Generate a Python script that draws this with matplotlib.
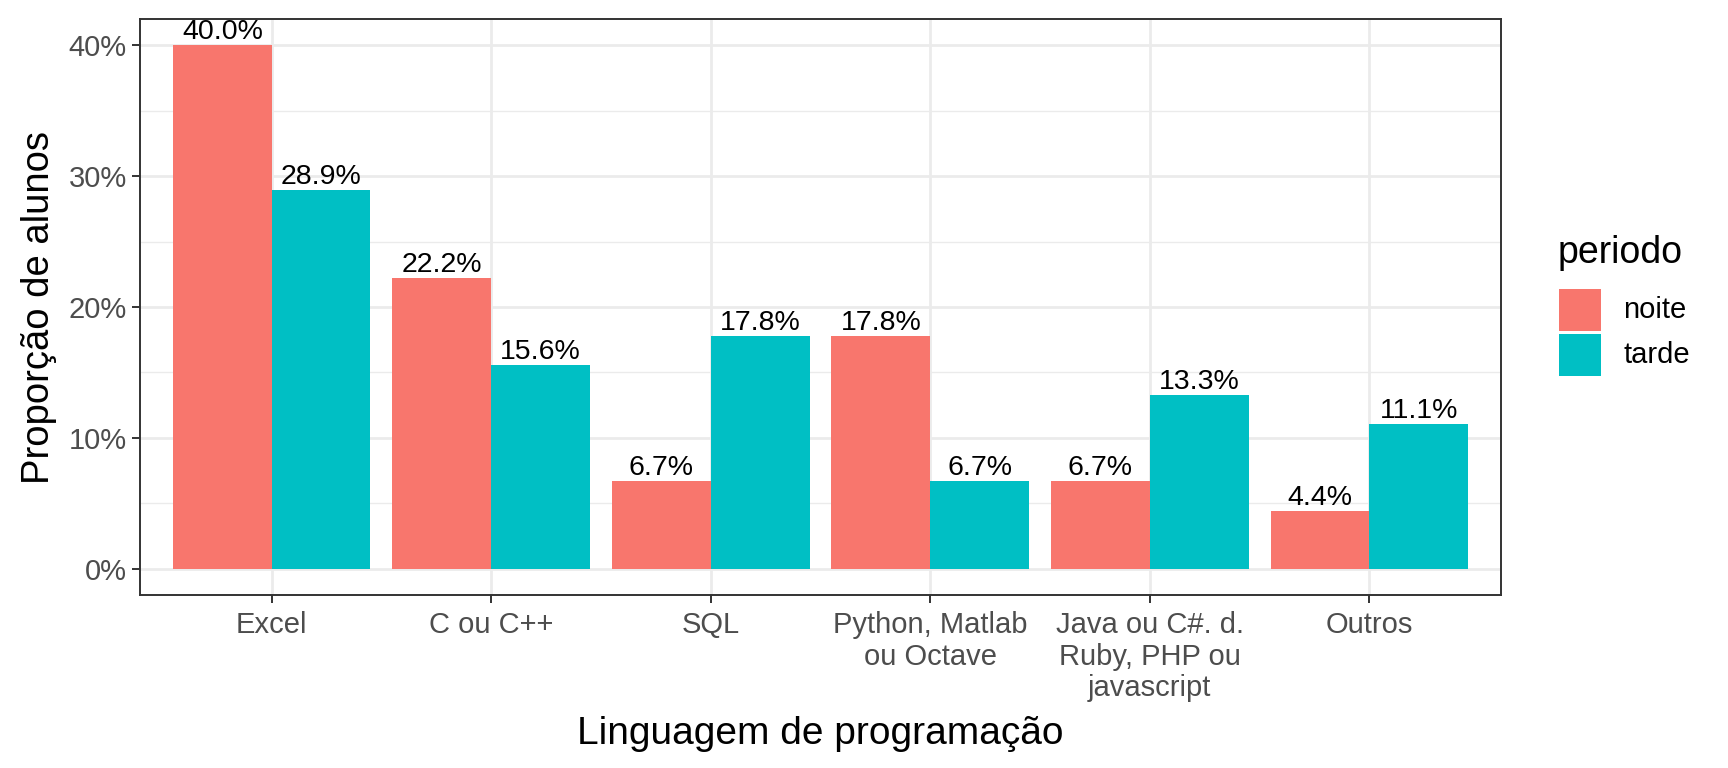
import matplotlib
matplotlib.use('Agg')
import matplotlib.pyplot as plt
import numpy as np
from matplotlib.patches import Rectangle
from matplotlib.ticker import FuncFormatter, MultipleLocator

# dados
linguagens = ['Excel', 'C ou C++', 'SQL', 'Python, Matlab\nou Octave',
              'Java ou C#. d.\nRuby, PHP ou\njavascript', 'Outros']
noite = [0.400, 0.222, 0.067, 0.178, 0.067, 0.044]
tarde = [0.289, 0.156, 0.178, 0.067, 0.133, 0.111]
periodos = ['noite', 'tarde']
cores = ['#F8766D', '#00BFC4']

plt.rcParams['font.family'] = ['Liberation Sans', 'DejaVu Sans']

W, H = 1728, 768
fig = plt.figure(figsize=(W / 100, H / 100), dpi=100)
ax = fig.add_axes([140 / W, 1 - 595 / H, 1361 / W, 576 / H])

x = np.arange(1, len(linguagens) + 1)
w = 0.45
for serie, cor, desl in [(noite, cores[0], -w / 2), (tarde, cores[1], w / 2)]:
    barras = ax.bar(x + desl, serie, width=w, color=cor, zorder=3)
    for b, v in zip(barras, serie):
        ax.text(b.get_x() + b.get_width() / 2, v, f'{v * 100:.1f}%',
                ha='center', va='bottom', fontsize=20.5, color='black',
                zorder=4, clip_on=True)

ax.set_xlim(0.4, 6.6)
ax.set_ylim(-0.02, 0.42)
ax.set_xticks(x)
ax.set_xticklabels(linguagens, fontsize=21, color='#4D4D4D', linespacing=1.17)
ax.yaxis.set_major_locator(MultipleLocator(0.1))
ax.yaxis.set_minor_locator(MultipleLocator(0.05))
ax.yaxis.set_major_formatter(FuncFormatter(lambda v, p: f'{v * 100:.0f}%'))
ax.tick_params(axis='y', labelsize=21, labelcolor='#4D4D4D', length=5.5, width=1.4, color='#333333', pad=4)
ax.tick_params(axis='x', length=5.5, width=1.4, color='#333333', pad=6)
ax.tick_params(axis='y', which='minor', length=0)

ax.grid(True, which='major', color='#EBEBEB', linewidth=2, zorder=0)
ax.grid(True, which='minor', axis='y', color='#EBEBEB', linewidth=1, zorder=0)
ax.set_axisbelow(True)
for s in ax.spines.values():
    s.set_color('#333333')
    s.set_linewidth(1.4)

ax.set_xlabel('Linguagem de programação', fontsize=28)
ax.set_ylabel('Proporção de alunos', fontsize=27.5)
ax.xaxis.set_label_coords(0.5, (595 - 716) / 576)
ax.yaxis.set_label_coords((57 - 140) / 1361, 0.5)

# legenda
fig.text(1558 / W, 1 - 263 / H, 'periodo', fontsize=27, va='baseline', ha='left')
for i, (p, c) in enumerate(zip(periodos, cores)):
    topo = 289 + i * 45
    fig.patches.append(Rectangle((1559 / W, 1 - (topo + 42) / H), 42 / W, 42 / H,
                                 transform=fig.transFigure, facecolor=c, edgecolor='none'))
    fig.text(1623 / W, 1 - (topo + 21) / H, p, fontsize=21, va='center', ha='left')

fig.savefig('out.png', dpi=100)
